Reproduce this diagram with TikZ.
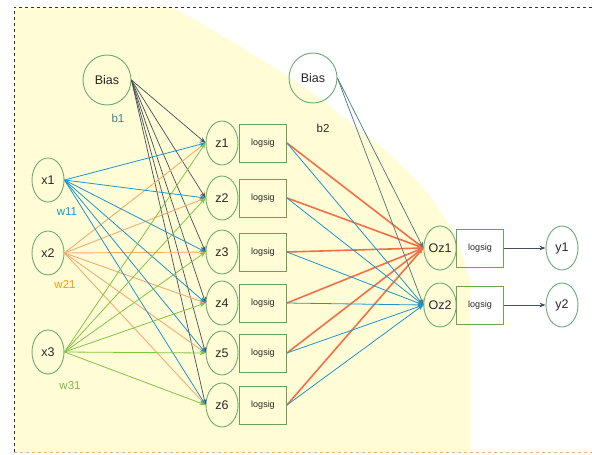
\documentclass[tikz,border=0pt]{standalone}
\usepackage{fontspec}
\setmainfont{Liberation Sans}
\usetikzlibrary{shapes.geometric,arrows.meta}
\definecolor{bgyel}{RGB}{255,252,214}
\definecolor{ringc}{RGB}{105,172,118}
\definecolor{boxc}{RGB}{112,160,88}
\definecolor{lblue}{RGB}{30,150,205}
\definecolor{lorange}{RGB}{246,172,110}
\definecolor{lred}{RGB}{242,112,72}
\definecolor{lgreen}{RGB}{128,198,70}
\definecolor{lgray}{RGB}{70,80,90}
\definecolor{lteal}{RGB}{72,118,128}
\definecolor{txt}{RGB}{40,40,40}
\tikzset{
  neuron/.style={ellipse,draw=ringc,line width=0.9pt,minimum width=32pt,minimum height=44pt,inner sep=0pt,font=\fontsize{12.5}{12.5}\selectfont,text=txt},
  biasn/.style={ellipse,draw=ringc,line width=0.9pt,minimum width=48pt,minimum height=50pt,inner sep=0pt,font=\fontsize{12.5}{12.5}\selectfont,text=txt},
  fbox/.style={rectangle,draw=boxc,line width=0.9pt,minimum width=47pt,minimum height=38pt,inner sep=0pt,font=\fontsize{9}{9}\selectfont,text=txt},
  tip/.style={-{Stealth[length=6pt,width=4.5pt]}},
  wb/.style={tip,draw=lblue,line width=0.8pt},
  wo/.style={tip,draw=lorange,line width=0.9pt},
  wg/.style={tip,draw=lgreen,line width=0.8pt},
  wk/.style={tip,draw=lgray,line width=0.7pt},
  wr/.style={tip,draw=lred,line width=1.6pt},
  wt/.style={tip,draw=lteal,line width=0.7pt},
  outa/.style={tip,draw=lgray,line width=0.8pt},
  lbl/.style={font=\fontsize{11.5}{11.5}\selectfont}
}
\begin{document}
\begin{tikzpicture}[x=1pt,y=-1pt]
\useasboundingbox (0,0) rectangle (592,455);
\fill[white] (0,0) rectangle (592,455);
\fill[bgyel] (14,7) -- (172,7) .. controls (230,40) and (300,80) .. (340,115)
  .. controls (400,160) and (450,200) .. (470,280) -- (470,452) -- (14,452) -- cycle;
\draw[dashed,line width=0.7pt,black!80] (14,452) -- (14,7) -- (592,7);
\draw[dashed,line width=0.7pt,lorange] (14,452) -- (592,452);

% nodes
\node[biasn] (b1) at (107,80) {Bias};
\node[biasn] (b2) at (313,78) {Bias};
\node[neuron] (x1) at (48,180) {x1};
\node[neuron] (x2) at (48,253) {x2};
\node[neuron] (x3) at (48,352) {x3};
\foreach \i/\y in {1/143,2/198,3/252,4/303,5/353,6/405}{
  \node[neuron] (z\i) at (222,\y) {z\i};
  \node[fbox] (f\i) at (263,\y) {logsig};
}
\node[neuron] (o1) at (440,248) {Oz1};
\node[neuron] (o2) at (440,305) {Oz2};
\node[fbox] (g1) at (480,248) {logsig};
\node[fbox] (g2) at (480,305) {logsig};
\node[neuron] (y1) at (562,248) {y1};
\node[neuron] (y2) at (562,305) {y2};

% labels
\node[lbl,text=lteal!70!lblue] (lb1) at (118,118) {b1};
\node[lbl,text=txt] (lb2) at (323,128) {b2};
\node[lbl,text=lblue] (lw11) at (67,212) {w11};
\node[lbl,text=orange!80!yellow] (lw21) at (65,284) {w21};
\node[lbl,text=lgreen!80!gray] (lw31) at (70,386) {w31};

% connections input -> hidden
\foreach \i in {1,...,6}{
  \draw[wk] (b1.east) -- (z\i.west);
}
\foreach \i in {1,...,6}{
  \draw[wo] (x2.east) -- (z\i.west);
}
\foreach \i in {1,...,6}{
  \draw[wb] (x1.east) -- (z\i.west);
}
\foreach \i in {1,...,6}{
  \draw[wg] (x3.east) -- (z\i.west);
}
% hidden -> output
\foreach \i in {1,...,6}{
  \draw[wr] (f\i.east) -- (o1.west);
}
\foreach \i in {1,...,6}{
  \draw[wb] (f\i.east) -- (o2.west);
}
\draw[wt] (b2.east) -- (o1.west);
\draw[wt] (b2.east) -- (o2.west);
\draw[outa] (g1.east) -- (y1.west);
\draw[outa] (g2.east) -- (y2.west);
\end{tikzpicture}
\end{document}
